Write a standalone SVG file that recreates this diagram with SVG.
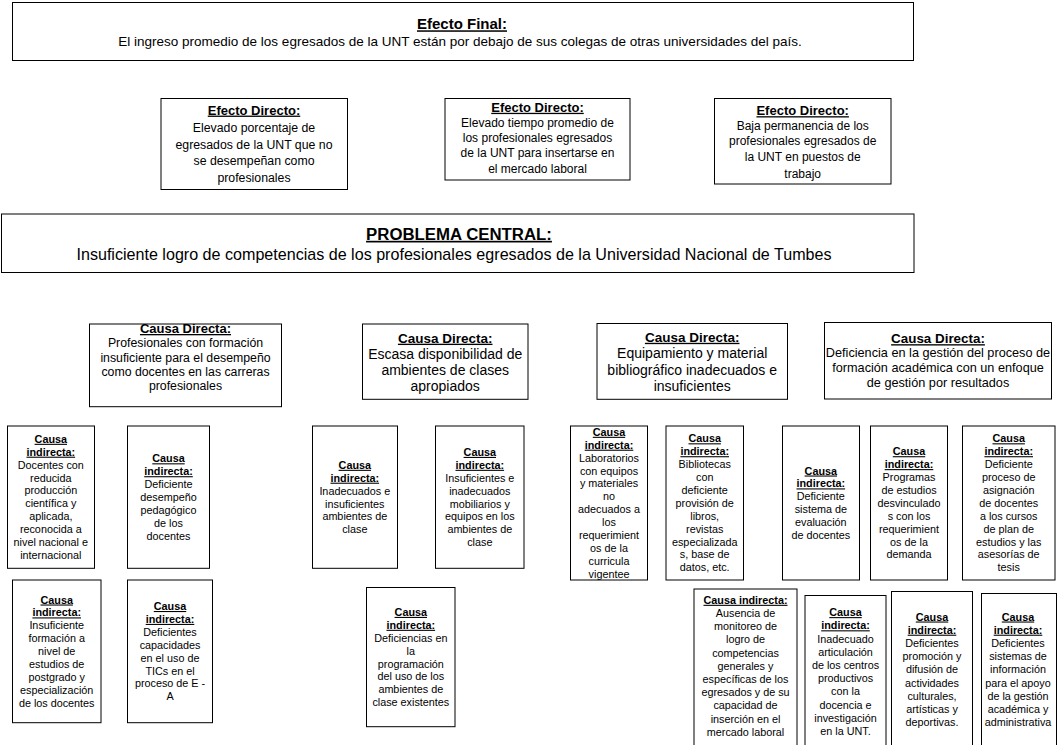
<svg xmlns="http://www.w3.org/2000/svg" width="1057" height="745" viewBox="0 0 1057 745">
<style>
.box{fill:#fff;stroke:#000;stroke-width:1}
text{font-family:"Liberation Sans",Arial,sans-serif;text-anchor:middle;fill:#000}
.h{font-weight:bold;text-decoration:underline}
.ci{font-size:10.8px}
</style>
<rect width="1057" height="745" fill="#fff"/>
<g id="connectors"/>

<g id="efecto-final">
<rect class="box" x="12.5" y="2.5" width="901" height="58"/>
<text x="462" y="29.3" class="h" font-size="15">Efecto Final:</text>
<text x="460" y="46.3" font-size="13.5">El ingreso promedio de los egresados de la UNT están por debajo de sus colegas de otras universidades del país.</text>
</g>

<g id="efecto-directo-1">
<rect class="box" x="161" y="98.5" width="186.5" height="91"/>
<text font-size="12.3"><tspan x="254" y="114.6" class="h" font-size="13">Efecto Directo:</tspan><tspan x="254" y="132">Elevado porcentaje de</tspan><tspan x="254" y="148.6">egresados de la UNT que no</tspan><tspan x="254" y="165.3">se desempeñan como</tspan><tspan x="254" y="181.6">profesionales</tspan></text>
</g>

<g id="efecto-directo-2">
<rect class="box" x="445" y="98.5" width="185" height="81.5"/>
<text font-size="12"><tspan x="537.5" y="111.8" class="h" font-size="13">Efecto Directo:</tspan><tspan x="537.5" y="126.6">Elevado tiempo promedio de</tspan><tspan x="537.5" y="142">los profesionales egresados</tspan><tspan x="537.5" y="157.3">de la UNT para insertarse en</tspan><tspan x="537.5" y="172.6">el mercado laboral</tspan></text>
</g>

<g id="efecto-directo-3">
<rect class="box" x="714.5" y="98.5" width="176.5" height="85.5"/>
<text font-size="12"><tspan x="802.7" y="115.2" class="h" font-size="13">Efecto Directo:</tspan><tspan x="802.7" y="130.3">Baja permanencia de los</tspan><tspan x="802.7" y="145.3">profesionales egresados de</tspan><tspan x="802.7" y="161">la UNT en puestos de</tspan><tspan x="802.7" y="177.6">trabajo</tspan></text>
</g>

<g id="problema-central">
<rect class="box" x="1.5" y="214" width="912.5" height="58.5"/>
<text x="459" y="239.8" class="h" font-size="16.8">PROBLEMA CENTRAL:</text>
<text x="454" y="259.6" font-size="16.1">Insuficiente logro de competencias de los profesionales egresados de la Universidad Nacional de Tumbes</text>
</g>

<g id="causa-directa-1">
<rect class="box" x="89.5" y="324" width="192" height="82.7"/>
<text font-size="12.3"><tspan x="185.5" y="333" class="h" font-size="13">Causa Directa:</tspan><tspan x="185.5" y="347">Profesionales con formación</tspan><tspan x="185.5" y="361.5">insuficiente para el desempeño</tspan><tspan x="185.5" y="375.9">como docentes en las carreras</tspan><tspan x="185.5" y="390.3">profesionales</tspan></text>
</g>

<g id="causa-directa-2">
<rect class="box" x="362.5" y="324" width="165.5" height="75.3"/>
<text font-size="14"><tspan x="445.2" y="342.7" class="h" font-size="13.5">Causa Directa:</tspan><tspan x="445.2" y="358.7">Escasa disponibilidad de</tspan><tspan x="445.2" y="374.9">ambientes de clases</tspan><tspan x="445.2" y="390.9">apropiados</tspan></text>
</g>

<g id="causa-directa-3">
<rect class="box" x="597" y="323.5" width="190.5" height="75.8"/>
<text font-size="14"><tspan x="692.2" y="341.8" class="h" font-size="13.5">Causa Directa:</tspan><tspan x="692.2" y="357.8">Equipamiento y material</tspan><tspan x="692.2" y="374.9">bibliográfico inadecuados e</tspan><tspan x="692.2" y="390.9">insuficientes</tspan></text>
</g>

<g id="causa-directa-4">
<rect class="box" x="824.5" y="322.5" width="227" height="76.5"/>
<text font-size="12.7"><tspan x="938" y="343.2" class="h" font-size="13.4">Causa Directa:</tspan><tspan x="938" y="356.6">Deficiencia en la gestión del proceso de</tspan><tspan x="938" y="371.8">formación académica con un enfoque</tspan><tspan x="938" y="387">de gestión por resultados</tspan></text>
</g>

<g id="ci-docentes-produccion">
<rect class="box" x="7.5" y="426" width="87" height="142.3"/>
<text class="ci"><tspan x="50.8" y="442.8" class="h">Causa</tspan><tspan x="50.8" dy="12.9" class="h">indirecta:</tspan><tspan x="50.8" dy="12.9">Docentes con</tspan><tspan x="50.8" dy="12.9">reducida</tspan><tspan x="50.8" dy="12.9">producción</tspan><tspan x="50.8" dy="12.9">científica y</tspan><tspan x="50.8" dy="12.9">aplicada,</tspan><tspan x="50.8" dy="12.9">reconocida a</tspan><tspan x="50.8" dy="12.9">nivel nacional e</tspan><tspan x="50.8" dy="12.9">internacional</tspan></text>
</g>

<g id="ci-desempeno-pedagogico">
<rect class="box" x="127.5" y="426" width="82" height="142.3"/>
<text class="ci"><tspan x="168.5" y="462.3" class="h">Causa</tspan><tspan x="168.5" dy="12.9" class="h">indirecta:</tspan><tspan x="168.5" dy="12.9">Deficiente</tspan><tspan x="168.5" dy="12.9">desempeño</tspan><tspan x="168.5" dy="12.9">pedagógico</tspan><tspan x="168.5" dy="12.9">de los</tspan><tspan x="168.5" dy="12.9">docentes</tspan></text>
</g>

<g id="ci-formacion-postgrado">
<rect class="box" x="12.5" y="580" width="88.5" height="142.7"/>
<text class="ci"><tspan x="56.7" y="603.5" class="h">Causa</tspan><tspan x="56.7" dy="12.9" class="h">indirecta:</tspan><tspan x="56.7" dy="12.9">Insuficiente</tspan><tspan x="56.7" dy="12.9">formación a</tspan><tspan x="56.7" dy="12.9">nivel de</tspan><tspan x="56.7" dy="12.9">estudios de</tspan><tspan x="56.7" dy="12.9">postgrado y</tspan><tspan x="56.7" dy="12.9">especialización</tspan><tspan x="56.7" dy="12.9">de los docentes</tspan></text>
</g>

<g id="ci-tics">
<rect class="box" x="127.5" y="580" width="85" height="142.7"/>
<text class="ci"><tspan x="170" y="610" class="h">Causa</tspan><tspan x="170" dy="12.9" class="h">indirecta:</tspan><tspan x="170" dy="12.9">Deficientes</tspan><tspan x="170" dy="12.9">capacidades</tspan><tspan x="170" dy="12.9">en el uso de</tspan><tspan x="170" dy="12.9">TICs en el</tspan><tspan x="170" dy="12.9">proceso de E -</tspan><tspan x="170" dy="12.9">A</tspan></text>
</g>

<g id="ci-ambientes-clase">
<rect class="box" x="312.5" y="426" width="85" height="142.3"/>
<text class="ci"><tspan x="354.8" y="468.8" class="h">Causa</tspan><tspan x="354.8" dy="12.9" class="h">indirecta:</tspan><tspan x="354.8" dy="12.9">Inadecuados e</tspan><tspan x="354.8" dy="12.9">insuficientes</tspan><tspan x="354.8" dy="12.9">ambientes de</tspan><tspan x="354.8" dy="12.9">clase</tspan></text>
</g>

<g id="ci-mobiliarios">
<rect class="box" x="435.5" y="426" width="88.5" height="142.3"/>
<text class="ci"><tspan x="479.8" y="455.9" class="h">Causa</tspan><tspan x="479.8" dy="12.9" class="h">indirecta:</tspan><tspan x="479.8" dy="12.9">Insuficientes e</tspan><tspan x="479.8" dy="12.9">inadecuados</tspan><tspan x="479.8" dy="12.9">mobiliarios y</tspan><tspan x="479.8" dy="12.9">equipos en los</tspan><tspan x="479.8" dy="12.9">ambientes de</tspan><tspan x="479.8" dy="12.9">clase</tspan></text>
</g>

<g id="ci-programacion-ambientes">
<rect class="box" x="366.5" y="587.5" width="88.5" height="139.2"/>
<text class="ci"><tspan x="410.8" y="615.9" class="h">Causa</tspan><tspan x="410.8" dy="12.9" class="h">indirecta:</tspan><tspan x="410.8" dy="12.9">Deficiencias en</tspan><tspan x="410.8" dy="12.9">la</tspan><tspan x="410.8" dy="12.9">programación</tspan><tspan x="410.8" dy="12.9">del uso de los</tspan><tspan x="410.8" dy="12.9">ambientes de</tspan><tspan x="410.8" dy="12.9">clase existentes</tspan></text>
</g>

<g id="ci-laboratorios">
<rect class="box" x="570.5" y="426" width="77" height="154"/>
<text class="ci"><tspan x="609" y="435.8" class="h">Causa</tspan><tspan x="609" dy="12.9" class="h">indirecta:</tspan><tspan x="609" dy="12.9">Laboratorios</tspan><tspan x="609" dy="12.9">con equipos</tspan><tspan x="609" dy="12.9">y materiales</tspan><tspan x="609" dy="12.9">no</tspan><tspan x="609" dy="12.9">adecuados a</tspan><tspan x="609" dy="12.9">los</tspan><tspan x="609" dy="12.9">requerimient</tspan><tspan x="609" dy="12.9">os de la</tspan><tspan x="609" dy="12.9">curricula</tspan><tspan x="609" dy="12.9">vigentee</tspan></text>
</g>

<g id="ci-bibliotecas">
<rect class="box" x="666" y="426" width="77.5" height="154"/>
<text class="ci"><tspan x="704.7" y="442.3" class="h">Causa</tspan><tspan x="704.7" dy="12.9" class="h">indirecta:</tspan><tspan x="704.7" dy="12.9">Bibliotecas</tspan><tspan x="704.7" dy="12.9">con</tspan><tspan x="704.7" dy="12.9">deficiente</tspan><tspan x="704.7" dy="12.9">provisión de</tspan><tspan x="704.7" dy="12.9">libros,</tspan><tspan x="704.7" dy="12.9">revistas</tspan><tspan x="704.7" dy="12.9">especializada</tspan><tspan x="704.7" dy="12.9">s, base de</tspan><tspan x="704.7" dy="12.9">datos, etc.</tspan></text>
</g>

<g id="ci-evaluacion-docentes">
<rect class="box" x="782.5" y="426" width="77" height="154"/>
<text class="ci"><tspan x="820.8" y="474.5" class="h">Causa</tspan><tspan x="820.8" dy="12.9" class="h">indirecta:</tspan><tspan x="820.8" dy="12.9">Deficiente</tspan><tspan x="820.8" dy="12.9">sistema de</tspan><tspan x="820.8" dy="12.9">evaluación</tspan><tspan x="820.8" dy="12.9">de docentes</tspan></text>
</g>

<g id="ci-programas-estudios">
<rect class="box" x="870.5" y="426" width="77" height="154"/>
<text class="ci"><tspan x="909" y="455.2" class="h">Causa</tspan><tspan x="909" dy="12.9" class="h">indirecta:</tspan><tspan x="909" dy="12.9">Programas</tspan><tspan x="909" dy="12.9">de estudios</tspan><tspan x="909" dy="12.9">desvinculado</tspan><tspan x="909" dy="12.9">s con los</tspan><tspan x="909" dy="12.9">requerimient</tspan><tspan x="909" dy="12.9">os de la</tspan><tspan x="909" dy="12.9">demanda</tspan></text>
</g>

<g id="ci-asignacion-docentes">
<rect class="box" x="962.5" y="426" width="92.5" height="154"/>
<text class="ci"><tspan x="1008.7" y="442.3" class="h">Causa</tspan><tspan x="1008.7" dy="12.9" class="h">indirecta:</tspan><tspan x="1008.7" dy="12.9">Deficiente</tspan><tspan x="1008.7" dy="12.9">proceso de</tspan><tspan x="1008.7" dy="12.9">asignación</tspan><tspan x="1008.7" dy="12.9">de docentes</tspan><tspan x="1008.7" dy="12.9">a los cursos</tspan><tspan x="1008.7" dy="12.9">de plan de</tspan><tspan x="1008.7" dy="12.9">estudios y las</tspan><tspan x="1008.7" dy="12.9">asesorías de</tspan><tspan x="1008.7" dy="12.9">tesis</tspan></text>
</g>

<g id="ci-monitoreo">
<rect class="box" x="694" y="589" width="103" height="170"/>
<text class="ci"><tspan x="745.5" y="603.8" class="h">Causa indirecta:</tspan><tspan x="745.5" dy="13.2">Ausencia de</tspan><tspan x="745.5" dy="13.2">monitoreo de</tspan><tspan x="745.5" dy="13.2">logro de</tspan><tspan x="745.5" dy="13.2">competencias</tspan><tspan x="745.5" dy="13.2">generales y</tspan><tspan x="745.5" dy="13.2">específicas de los</tspan><tspan x="745.5" dy="13.2">egresados y de su</tspan><tspan x="745.5" dy="13.2">capacidad de</tspan><tspan x="745.5" dy="13.2">inserción en el</tspan><tspan x="745.5" dy="13.2">mercado laboral</tspan></text>
</g>

<g id="ci-centros-productivos">
<rect class="box" x="805" y="595.5" width="81" height="170"/>
<text class="ci"><tspan x="845.5" y="616.1" class="h">Causa</tspan><tspan x="845.5" dy="13.2" class="h">indirecta:</tspan><tspan x="845.5" dy="13.2">Inadecuado</tspan><tspan x="845.5" dy="13.2">articulación</tspan><tspan x="845.5" dy="13.2">de los centros</tspan><tspan x="845.5" dy="13.2">productivos</tspan><tspan x="845.5" dy="13.2">con la</tspan><tspan x="845.5" dy="13.2">docencia e</tspan><tspan x="845.5" dy="13.2">investigación</tspan><tspan x="845.5" dy="13.2">en la UNT.</tspan></text>
</g>

<g id="ci-actividades-culturales">
<rect class="box" x="891.5" y="591.5" width="81" height="170"/>
<text class="ci"><tspan x="932" y="620.5" class="h">Causa</tspan><tspan x="932" dy="13.2" class="h">indirecta:</tspan><tspan x="932" dy="13.2">Deficientes</tspan><tspan x="932" dy="13.2">promoción y</tspan><tspan x="932" dy="13.2">difusión de</tspan><tspan x="932" dy="13.2">actividades</tspan><tspan x="932" dy="13.2">culturales,</tspan><tspan x="932" dy="13.2">artísticas y</tspan><tspan x="932" dy="13.2">deportivas.</tspan></text>
</g>

<g id="ci-sistemas-informacion">
<rect class="box" x="981.5" y="593.5" width="75" height="170"/>
<text class="ci"><tspan x="1018" y="620.5" class="h">Causa</tspan><tspan x="1018" dy="13.2" class="h">indirecta:</tspan><tspan x="1018" dy="13.2">Deficientes</tspan><tspan x="1018" dy="13.2">sistemas de</tspan><tspan x="1018" dy="13.2">información</tspan><tspan x="1018" dy="13.2">para el apoyo</tspan><tspan x="1018" dy="13.2">de  la gestión</tspan><tspan x="1018" dy="13.2">académica y</tspan><tspan x="1018" dy="13.2">administrativa</tspan></text>
</g>
</svg>
